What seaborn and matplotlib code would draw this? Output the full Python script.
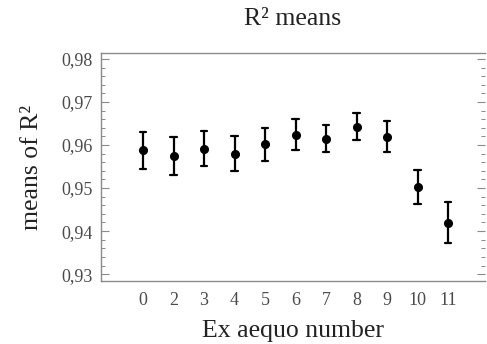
import numpy as np
import pandas as pd
import matplotlib
matplotlib.use("Agg")
import matplotlib.pyplot as plt
from matplotlib.ticker import FuncFormatter, MultipleLocator
import seaborn as sns

categories = ["0", "2", "3", "4", "5", "6", "7", "8", "9", "10", "11"]
means = [0.9588, 0.9574, 0.9592, 0.9580, 0.9602, 0.9623, 0.9615, 0.9641, 0.9619, 0.9503, 0.9419]
lower = [0.9545, 0.9530, 0.9551, 0.9540, 0.9562, 0.9588, 0.9583, 0.9612, 0.9584, 0.9463, 0.9373]
upper = [0.9630, 0.9618, 0.9633, 0.9621, 0.9639, 0.9660, 0.9646, 0.9674, 0.9656, 0.9543, 0.9467]

rows = []
for c, lo, m, hi in zip(categories, lower, means, upper):
    for v in (lo, m, hi):
        rows.append({"cat": c, "value": v})
df = pd.DataFrame(rows)

sns.set_theme(style="white")
plt.rcParams["font.family"] = ["Liberation Serif", "DejaVu Serif"]
plt.rcParams["mathtext.fontset"] = "stix"

fig = plt.figure(figsize=(4.87, 3.44), dpi=100)
ax = fig.add_axes([101 / 487, (344 - 281) / 344, (485 - 101) / 487, (281 - 53) / 344])

sns.pointplot(data=df, x="cat", y="value", order=categories,
              estimator=np.median, errorbar=lambda x: (x.min(), x.max()),
              linestyle="none", color="black", markers="o", markersize=4.5,
              capsize=0.22, err_kws={"linewidth": 1.6}, ax=ax)

ax.set_xlim(-1.377, 11.21)
ax.set_ylim(0.9284, 0.9814)
ax.yaxis.set_major_locator(MultipleLocator(0.01))
ax.yaxis.set_minor_locator(MultipleLocator(0.002))
ax.yaxis.set_major_formatter(FuncFormatter(lambda v, p: f"{v:.2f}".replace(".", ",")))

spine_col = "#8a8a8a"
for s in ["left", "top", "bottom"]:
    ax.spines[s].set_color(spine_col)
    ax.spines[s].set_linewidth(1.0)
ax.spines["right"].set_visible(False)

ax.tick_params(axis="y", which="major", direction="in", length=6, width=0.8,
               color=spine_col, left=True, right=True, labelsize=13,
               labelcolor="#4a4a4a", pad=6)
ax.tick_params(axis="y", which="minor", direction="in", length=3, width=0.7,
               color=spine_col, left=True, right=True)
ax.tick_params(axis="x", which="both", bottom=False, top=False, length=0,
               labelsize=13, labelcolor="#4a4a4a", pad=8)

ax.set_title("R² means", fontsize=18.5, color="#222222", pad=20)
ax.set_xlabel("Ex aequo number", fontsize=18.5, color="#222222", labelpad=8)
ax.set_ylabel("means of R²", fontsize=18.5, color="#222222", labelpad=13)

fig.savefig("out.png", dpi=100)
